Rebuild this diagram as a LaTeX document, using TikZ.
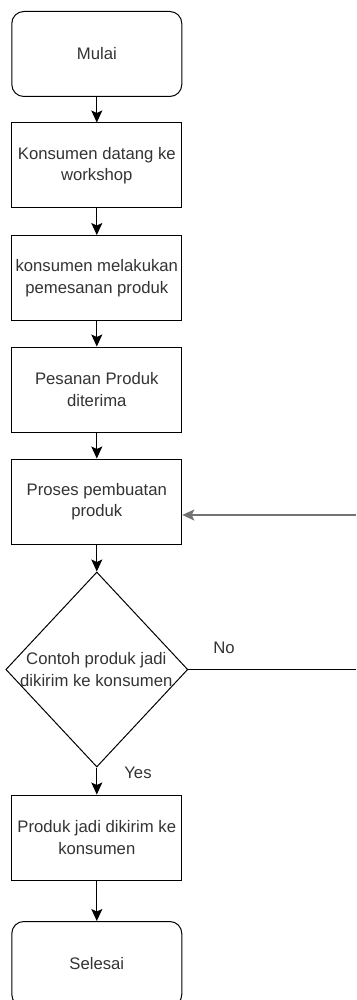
\documentclass[tikz,border=0pt]{standalone}
\usepackage{fontspec}
\setmainfont{Liberation Sans}
\usetikzlibrary{arrows.meta,shapes.geometric}

\tikzset{
  txt/.style={font=\fontsize{16.7}{21.5}\selectfont, text=black!80, align=center},
  proc/.style={draw, line width=1pt, minimum width=170pt, minimum height=85pt, inner sep=0pt, txt},
  term/.style={proc, rounded corners=12pt},
  decision/.style={draw, line width=1pt, diamond, minimum width=182pt, minimum height=195pt, inner sep=0pt},
  flow/.style={draw, line width=1pt, -{Stealth[length=12pt,width=11pt,inset=2.5pt]}},
  loop/.style={flow, draw=black!55, line width=1.4pt},
  lbl/.style={txt}
}

\begin{document}
\begin{tikzpicture}[x=1pt, y=-1pt]
  \useasboundingbox (0,0) rectangle (356,1000);

  % process steps, top to bottom
  \node[term] (start) at (96.8,54)    {Mulai};
  \node[proc] (s1)    at (96.8,165.5) {Konsumen datang ke\\workshop};
  \node[proc] (s2)    at (96.8,278)   {konsumen melakukan\\pemesanan produk};
  \node[proc] (s3)    at (96.8,389.5) {Pesanan Produk\\diterima};
  \node[proc] (s4)    at (96.8,501.5) {Proses pembuatan\\produk};
  \node[decision] (d) at (96.8,669.5) {};
  \node[txt] (dtext)  at (96.3,669.5) {Contoh produk jadi\\dikirim ke konsumen};
  \node[proc] (s5)    at (96.8,837.5) {Produk jadi dikirim ke\\konsumen};
  \node[term] (end)   at (96.8,964)   {Selesai};

  % main flow
  \draw[flow] (start) -- (s1);
  \draw[flow] (s1) -- (s2);
  \draw[flow] (s2) -- (s3);
  \draw[flow] (s3) -- (s4);
  \draw[flow] (s4.south) -- (d.north);
  \draw[flow] (d.south) -- (s5);
  \draw[flow] (s5) -- (end);

  % "No" branch leaves to the right, loop return comes back into s4
  \coordinate (noend) at (356,669.5);
  \coordinate (loopin) at (356,515);
  \draw[line width=1pt] (d.east) -- (noend);
  \draw[loop] (loopin) -- (s4.east |- loopin);

  % branch labels
  \node[lbl] (no)  at (224,648) {No};
  \node[lbl] (yes) at (138,773) {Yes};
\end{tikzpicture}
\end{document}
